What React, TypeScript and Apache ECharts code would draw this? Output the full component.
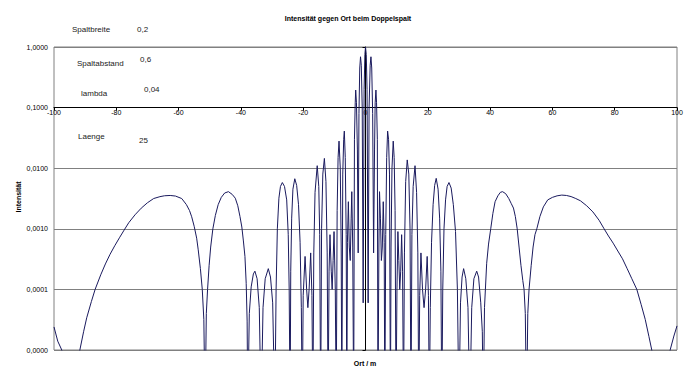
import React, { useEffect, useRef } from 'react';
import * as echarts from 'echarts';

// Position on the screen (m)
const ortValues: number[] = [
  -100, -98.8, -97.5, -94.5, -91.7, -90.5, -89.5, -88.0, -86.8, -85.0, -83.5, -82.0, -80.5, -79.0, -77.5, -76.0, -74.0, -72.0, -70.0, -68.0, -66.0, -64.5, -62.7, -61.0, -59.0, -57.5, -56.5, -55.8, -55.0, -54.2, -53.7, -53.0, -52.4, -51.9, -51.5,
  -51.1, -50.7, -50.2, -49.7, -49.0, -48.2, -47.3, -46.3, -45.2, -44.0, -42.8, -41.8, -41.0, -40.3, -39.7, -39.2, -38.7, -38.3, -38.0, -37.8,
  -37.3, -36.7, -36.0, -35.5, -34.8, -34.1, -33.5, -32.9, -32.2, -31.2, -30.5, -29.8, -29.1,
  -28.7, -28.3, -27.8, -27.3, -26.7, -26.0, -25.3, -24.8, -24.5, -24.2,
  -24.0, -23.7, -23.3, -22.7, -22.1, -21.5, -21.0, -20.6, -20.3,
  -20.0, -19.4, -18.9, -18.5, -18.1, -17.6, -17.2, -16.9,
  -16.6, -16.2, -15.5, -15.0, -14.7, -14.4,
  -14.1, -13.7, -13.2, -12.7, -12.3, -12.0,
  -11.7, -11.4, -11.0, -10.7, -10.4, -10.1, -9.7, -9.4,
  -9.1, -8.8, -8.5, -8.1, -7.8, -7.6,
  -7.3, -7.0, -6.8, -6.5, -6.2, -6.0,
  -5.8, -5.5, -5.2, -4.9, -4.6, -4.4, -4.1, -3.8,
  -3.55, -3.3, -3.15, -2.9, -2.6, -2.35, -2.1, -1.85, -1.6, -1.35, -1.05, -0.75, -0.45, -0.2,
  0,
  0.25, 0.5, 0.85, 1.15, 1.5, 1.75, 2.0, 2.3, 2.6, 2.9, 3.1, 3.35, 3.55, 3.8, 4.0,
  4.3, 4.5, 4.8, 5.1, 5.4, 5.7, 6.0, 6.2,
  6.5, 6.8, 7.1, 7.4, 7.7, 8.0,
  8.2, 8.5, 8.9, 9.2, 9.5, 9.8,
  10.1, 10.4, 10.7, 11.0, 11.3, 11.6, 11.9, 12.2,
  12.5, 12.9, 13.4, 13.9, 14.3, 14.6,
  14.9, 15.3, 15.9, 16.4, 16.8, 17.1,
  17.4, 17.8, 18.3, 18.8, 19.3, 19.8, 20.2, 20.5,
  20.8, 21.2, 21.7, 22.2, 22.7, 23.3, 23.8, 24.2, 24.5,
  24.8, 25.2, 25.7, 26.2, 26.8, 27.5, 28.2, 28.9, 29.5, 30.0,
  30.5, 31.0, 31.5, 32.2, 32.9, 33.5, 34.1, 34.8, 35.7, 36.3, 37.0, 37.5,
  37.8, 38.2, 38.9, 39.5, 40.2, 40.9, 41.6, 42.5, 43.3, 44.0, 45.0, 46.0, 46.8, 47.5, 48.1, 48.7, 49.3, 49.9, 50.5, 50.9, 51.3, 51.7,
  52.1, 52.5, 53.2, 53.8, 54.4, 55.0, 56.0, 57.1, 58.5, 60.0, 61.5, 63.0, 64.5, 66.0, 67.5, 69.0, 71.0, 73.0, 75.0, 76.6, 78.0, 79.5, 81.0, 82.5, 84.0, 85.5, 87.1, 88.5, 89.8, 91.0, 91.9, 94.8, 97.8, 99.0, 100,
];

// Intensity (relative)
const intensitaet: number[] = [
  0.000024, 0.000014, 0.00001, 0.000001, 0.00001, 0.00002, 0.000034, 0.000063, 0.0001, 0.000174, 0.000263, 0.00038, 0.000525, 0.00071, 0.00095, 0.00126, 0.0017, 0.00219, 0.00269, 0.00316, 0.00339, 0.00351, 0.00355, 0.00347, 0.00316, 0.00251, 0.002, 0.00158, 0.0011, 0.0007, 0.00045, 0.00022, 0.0001, 0.000032, 0.000001,
  0.00004, 0.0001, 0.00025, 0.0005, 0.001, 0.00166, 0.0025, 0.0033, 0.0039, 0.0041, 0.0037, 0.0032, 0.0024, 0.0016, 0.00107, 0.00063, 0.00035, 0.000126, 0.00003, 0.000001,
  0.00004, 0.00011, 0.00018, 0.0002, 0.00015, 0.00005, 0.000001, 0.00005, 0.00015, 0.00022, 0.00016, 0.00006, 0.000001,
  0.0001, 0.001, 0.0032, 0.005, 0.0058, 0.005, 0.003, 0.0008, 0.0001, 0.000001,
  0.0002, 0.0015, 0.0045, 0.0067, 0.0052, 0.0025, 0.0006, 0.00005, 0.000001,
  0.00008, 0.00035, 0.0001, 0.00005, 0.0001, 0.0004, 0.00008, 0.000001,
  0.0004, 0.004, 0.011, 0.005, 0.0008, 0.000001,
  0.001, 0.008, 0.0145, 0.006, 0.0004, 0.000001,
  0.0002, 0.0008, 0.0002, 0.0001, 0.0003, 0.0009, 0.0001, 0.000001,
  0.002, 0.015, 0.028, 0.01, 0.0005, 0.000001,
  0.008, 0.03, 0.041, 0.015, 0.0008, 0.000001,
  0.0006, 0.0028, 0.0005, 0.0003, 0.0015, 0.0041, 0.0005, 0.000001,
  0.03, 0.12, 0.195, 0.12, 0.02, 0.0004, 0.08, 0.45, 0.69, 0.5, 0.1, 0.00006, 0.2, 0.75,
  1.0,
  0.75, 0.2, 0.00006, 0.1, 0.5, 0.69, 0.45, 0.08, 0.0004, 0.02, 0.12, 0.195, 0.12, 0.03, 0.000001,
  0.0005, 0.0041, 0.0015, 0.0003, 0.0005, 0.0028, 0.0006, 0.000001,
  0.0008, 0.015, 0.041, 0.03, 0.008, 0.000001,
  0.0005, 0.01, 0.028, 0.015, 0.002, 0.000001,
  0.0001, 0.0009, 0.0003, 0.0001, 0.0002, 0.0008, 0.0002, 0.000001,
  0.0004, 0.006, 0.0137, 0.008, 0.001, 0.000001,
  0.0008, 0.005, 0.011, 0.004, 0.0004, 0.000001,
  0.00008, 0.0004, 0.0001, 0.00005, 0.0001, 0.00035, 0.00008, 0.000001,
  0.00005, 0.0006, 0.0025, 0.0052, 0.0068, 0.0045, 0.0015, 0.0002, 0.000001,
  0.0001, 0.001, 0.003, 0.005, 0.0058, 0.0047, 0.0025, 0.0009, 0.0001, 0.000001,
  0.00006, 0.00016, 0.00022, 0.00015, 0.00005, 0.000001, 0.00005, 0.00015, 0.0002, 0.00016, 0.00006, 0.00002,
  0.000001, 0.00005, 0.00027, 0.00056, 0.001, 0.0018, 0.0028, 0.0035, 0.004, 0.0041, 0.0038, 0.00316, 0.0026, 0.0022, 0.0016, 0.001, 0.0005, 0.00025, 0.00014, 0.0001, 0.00004, 0.000001,
  0.00004, 0.0001, 0.00025, 0.0005, 0.0008, 0.001, 0.0016, 0.0023, 0.003, 0.0033, 0.0035, 0.0036, 0.00355, 0.0034, 0.00316, 0.0029, 0.0024, 0.0019, 0.00138, 0.001, 0.00076, 0.00058, 0.00043, 0.00032, 0.00022, 0.00015, 0.0001, 0.000056, 0.000032, 0.0000166, 0.00001, 0.000001, 0.00001, 0.000017, 0.000025,
];

const paramNames = ['Spaltbreite', 'Spaltabstand', 'lambda', 'Laenge'];
const paramValues = ['0,2', '0,6', '0,04', '25'];

const FONT = '"Liberation Sans", Arial, sans-serif';

export default function App() {
  const ref = useRef<HTMLDivElement>(null);
  useEffect(() => {
    if (!ref.current) return;
    const chart = echarts.init(ref.current, undefined, { renderer: 'svg' });
    const data = ortValues.map((x, i) => [x, intensitaet[i]]);
    const nameCoords = [[72, 29], [77, 63], [81, 93], [78, 136]];
    const valueCoords = [[137, 29], [140, 59], [144, 89], [139, 140]];
    const graphics: any[] = [
      {
        type: 'text', x: 348, y: 18,
        style: { text: 'Intensität gegen Ort beim Doppelspalt', fontSize: 7, fontWeight: 'bold', fontFamily: FONT, fill: '#000', align: 'center', verticalAlign: 'middle' },
      },
      {
        type: 'text', x: 365, y: 363,
        style: { text: 'Ort / m', fontSize: 7, fontWeight: 'bold', fontFamily: FONT, fill: '#000', align: 'center', verticalAlign: 'middle' },
      },
      {
        type: 'text', x: 18.5, y: 197, rotation: Math.PI / 2,
        style: { text: 'Intensität', fontSize: 7, fontWeight: 'bold', fontFamily: FONT, fill: '#000', align: 'center', verticalAlign: 'middle' },
      },
    ];
    paramNames.forEach((n, i) => {
      graphics.push({
        type: 'text', x: nameCoords[i][0], y: nameCoords[i][1],
        style: { text: n, fontSize: 8, fontFamily: FONT, fill: '#222', align: 'left', verticalAlign: 'middle' },
      });
      graphics.push({
        type: 'text', x: valueCoords[i][0], y: valueCoords[i][1],
        style: { text: paramValues[i], fontSize: 8, fontFamily: FONT, fill: '#222', align: 'left', verticalAlign: 'middle' },
      });
    });
    chart.setOption({
      animation: false,
      backgroundColor: '#fff',
      grid: { left: 54, top: 47, right: 18, bottom: 28, show: true, borderColor: '#808080', borderWidth: 1 },
      xAxis: {
        type: 'value', min: -100, max: 100, interval: 20, offset: -242.4,
        axisLine: { lineStyle: { color: '#000', width: 1 } },
        axisTick: { show: true, length: 3, lineStyle: { color: '#000' } },
        axisLabel: { fontSize: 7, fontFamily: FONT, color: '#000', margin: 1 },
        splitLine: { show: false },
      },
      yAxis: {
        type: 'log', logBase: 10, min: 0.00001, max: 1,
        axisLine: { show: true, lineStyle: { color: '#000', width: 1 } },
        axisTick: { show: true, length: 3, lineStyle: { color: '#000' } },
        axisLabel: {
          fontSize: 7, fontFamily: FONT, color: '#000', margin: 6,
          formatter: (v: number) => v.toFixed(4).replace('.', ','),
        },
        splitLine: { show: true, lineStyle: { color: '#808080', width: 1 } },
        minorTick: { show: false },
      },
      series: [
        {
          type: 'line', data, showSymbol: false, clip: true,
          lineStyle: { color: '#1a1a5e', width: 1 },
        },
      ],
      graphic: graphics,
    });
    return () => chart.dispose();
  }, []);
  return <div ref={ref} style={{ position: 'absolute', left: 0, top: 0, width: 695, height: 378, background: '#fff' }} />;
}
